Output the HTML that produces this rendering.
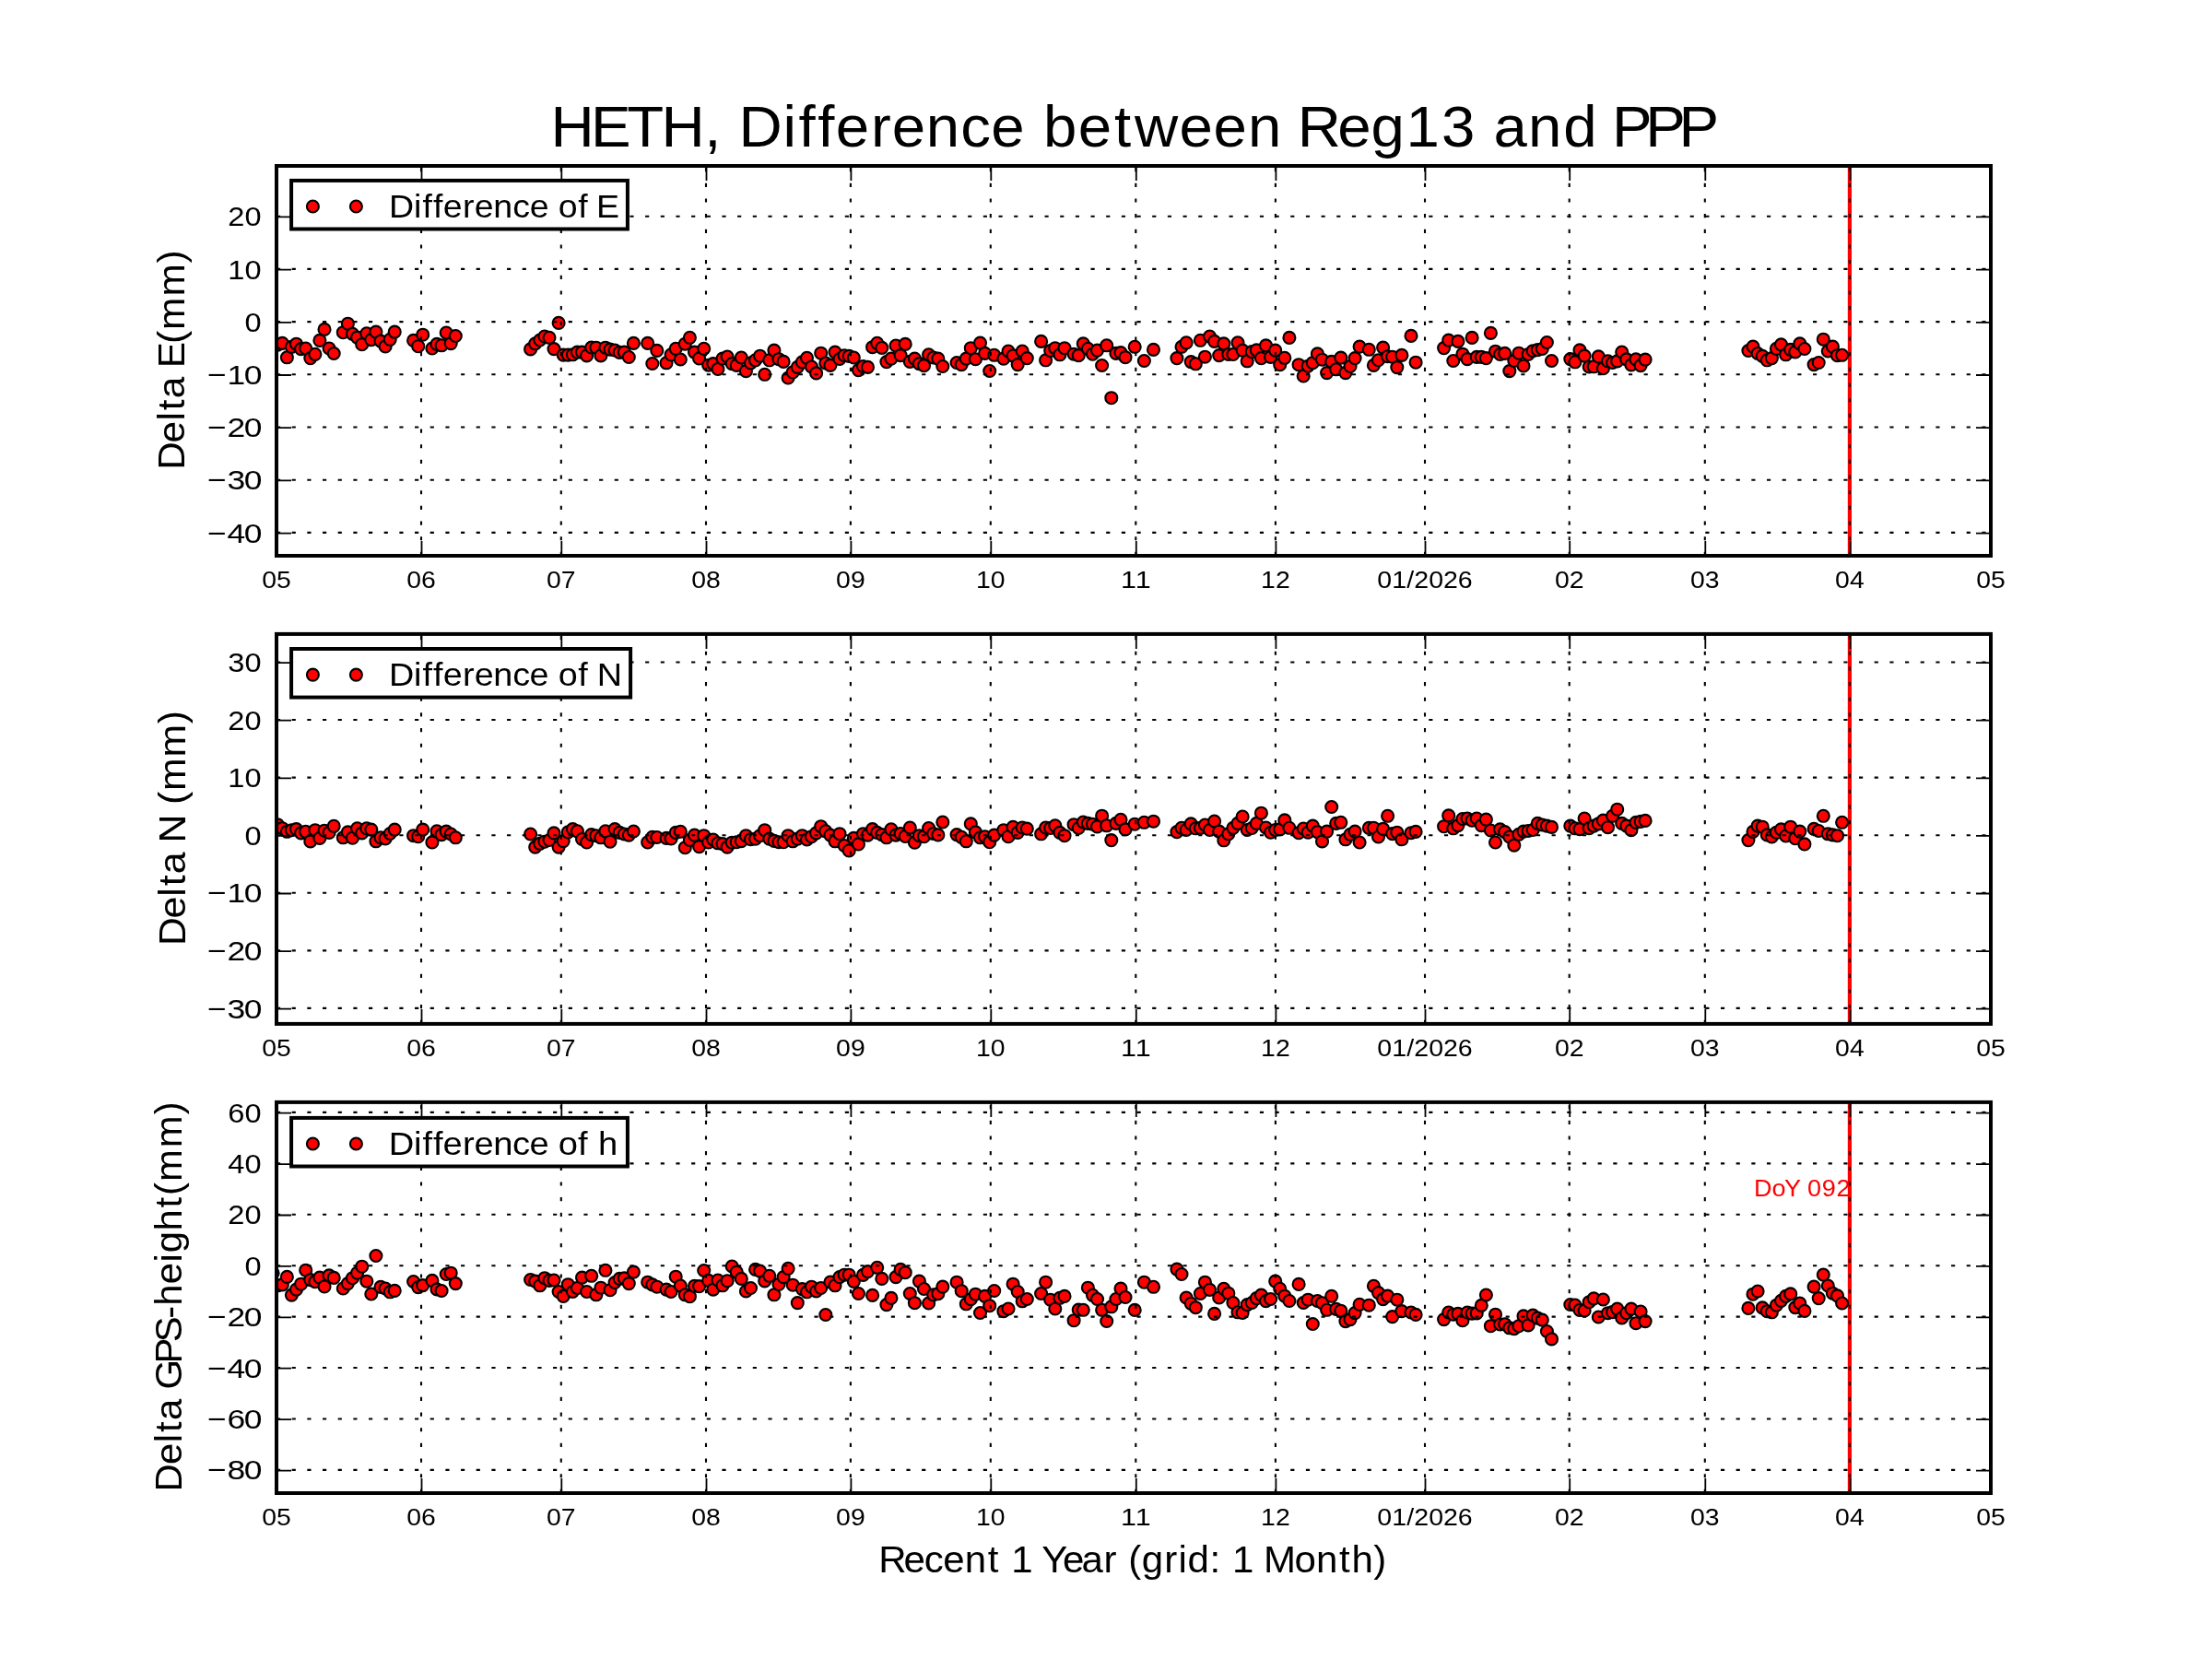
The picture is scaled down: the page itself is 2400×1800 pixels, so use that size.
<!DOCTYPE html>
<html><head><meta charset="utf-8"><title>HETH, Difference between Reg13 and PPP</title>
<style>
html,body{margin:0;padding:0;background:#fff;}
body{width:2400px;height:1800px;overflow:hidden;}
svg{display:block;font-family:"Liberation Sans",sans-serif;will-change:transform;}
</style></head><body>
<svg width="2400" height="1800" viewBox="0 0 2400 1800">
<rect width="2400" height="1800" fill="#fff"/>
<g id="panel1">
<rect x="300.0" y="180.0" width="1860.0" height="423.0" fill="#fff"/>
<line x1="2006.9" y1="180.0" x2="2006.9" y2="603.0" stroke="#f00" stroke-width="4.2"/>
<clipPath id="cp0"><rect x="300.0" y="180.0" width="1860.0" height="423.0"/></clipPath>
<g fill="#f00" stroke="#000" stroke-width="2.1" clip-path="url(#cp0)">
<circle cx="296.1" cy="374.5" r="6.5"/>
<circle cx="301.2" cy="374.2" r="6.5"/>
<circle cx="306.3" cy="372.4" r="6.5"/>
<circle cx="311.4" cy="387.8" r="6.5"/>
<circle cx="316.4" cy="376.4" r="6.5"/>
<circle cx="321.5" cy="373.2" r="6.5"/>
<circle cx="326.6" cy="378.6" r="6.5"/>
<circle cx="331.7" cy="378.0" r="6.5"/>
<circle cx="336.8" cy="388.6" r="6.5"/>
<circle cx="341.9" cy="384.3" r="6.5"/>
<circle cx="346.9" cy="369.4" r="6.5"/>
<circle cx="352.0" cy="357.4" r="6.5"/>
<circle cx="357.1" cy="378.0" r="6.5"/>
<circle cx="362.2" cy="383.5" r="6.5"/>
<circle cx="372.3" cy="360.7" r="6.5"/>
<circle cx="377.4" cy="351.2" r="6.5"/>
<circle cx="382.5" cy="362.3" r="6.5"/>
<circle cx="387.6" cy="366.1" r="6.5"/>
<circle cx="392.7" cy="373.7" r="6.5"/>
<circle cx="397.8" cy="361.8" r="6.5"/>
<circle cx="402.8" cy="368.6" r="6.5"/>
<circle cx="407.9" cy="360.1" r="6.5"/>
<circle cx="413.0" cy="370.1" r="6.5"/>
<circle cx="418.1" cy="375.9" r="6.5"/>
<circle cx="423.2" cy="368.3" r="6.5"/>
<circle cx="428.2" cy="360.1" r="6.5"/>
<circle cx="448.6" cy="369.4" r="6.5"/>
<circle cx="453.7" cy="375.7" r="6.5"/>
<circle cx="458.7" cy="363.2" r="6.5"/>
<circle cx="468.9" cy="378.0" r="6.5"/>
<circle cx="474.0" cy="373.4" r="6.5"/>
<circle cx="479.1" cy="374.8" r="6.5"/>
<circle cx="484.2" cy="361.0" r="6.5"/>
<circle cx="489.2" cy="372.6" r="6.5"/>
<circle cx="494.3" cy="364.5" r="6.5"/>
<circle cx="575.6" cy="378.9" r="6.5"/>
<circle cx="580.7" cy="372.8" r="6.5"/>
<circle cx="585.8" cy="369.0" r="6.5"/>
<circle cx="590.9" cy="365.0" r="6.5"/>
<circle cx="596.0" cy="366.3" r="6.5"/>
<circle cx="601.0" cy="378.6" r="6.5"/>
<circle cx="606.1" cy="350.4" r="6.5"/>
<circle cx="611.2" cy="385.1" r="6.5"/>
<circle cx="616.3" cy="385.1" r="6.5"/>
<circle cx="621.4" cy="384.8" r="6.5"/>
<circle cx="626.4" cy="382.1" r="6.5"/>
<circle cx="631.5" cy="382.1" r="6.5"/>
<circle cx="636.6" cy="385.9" r="6.5"/>
<circle cx="641.7" cy="377.0" r="6.5"/>
<circle cx="646.8" cy="377.2" r="6.5"/>
<circle cx="651.9" cy="385.9" r="6.5"/>
<circle cx="656.9" cy="377.2" r="6.5"/>
<circle cx="662.0" cy="379.1" r="6.5"/>
<circle cx="667.1" cy="380.0" r="6.5"/>
<circle cx="672.2" cy="382.4" r="6.5"/>
<circle cx="677.3" cy="382.1" r="6.5"/>
<circle cx="682.3" cy="387.5" r="6.5"/>
<circle cx="687.4" cy="372.4" r="6.5"/>
<circle cx="702.7" cy="372.4" r="6.5"/>
<circle cx="707.8" cy="394.5" r="6.5"/>
<circle cx="712.8" cy="380.4" r="6.5"/>
<circle cx="723.0" cy="393.8" r="6.5"/>
<circle cx="728.1" cy="384.8" r="6.5"/>
<circle cx="733.2" cy="378.3" r="6.5"/>
<circle cx="738.3" cy="390.0" r="6.5"/>
<circle cx="743.3" cy="373.2" r="6.5"/>
<circle cx="748.4" cy="366.3" r="6.5"/>
<circle cx="753.5" cy="382.1" r="6.5"/>
<circle cx="758.6" cy="388.9" r="6.5"/>
<circle cx="763.7" cy="378.3" r="6.5"/>
<circle cx="768.7" cy="396.2" r="6.5"/>
<circle cx="773.8" cy="394.6" r="6.5"/>
<circle cx="778.9" cy="400.5" r="6.5"/>
<circle cx="784.0" cy="389.1" r="6.5"/>
<circle cx="789.1" cy="387.0" r="6.5"/>
<circle cx="794.2" cy="394.6" r="6.5"/>
<circle cx="799.2" cy="396.4" r="6.5"/>
<circle cx="804.3" cy="388.0" r="6.5"/>
<circle cx="809.4" cy="402.7" r="6.5"/>
<circle cx="814.5" cy="393.8" r="6.5"/>
<circle cx="819.6" cy="390.8" r="6.5"/>
<circle cx="824.6" cy="386.2" r="6.5"/>
<circle cx="829.7" cy="406.3" r="6.5"/>
<circle cx="834.8" cy="390.8" r="6.5"/>
<circle cx="839.9" cy="380.1" r="6.5"/>
<circle cx="845.0" cy="389.7" r="6.5"/>
<circle cx="850.1" cy="392.4" r="6.5"/>
<circle cx="855.1" cy="410.0" r="6.5"/>
<circle cx="860.2" cy="403.8" r="6.5"/>
<circle cx="865.3" cy="398.4" r="6.5"/>
<circle cx="870.4" cy="392.9" r="6.5"/>
<circle cx="875.5" cy="388.3" r="6.5"/>
<circle cx="880.5" cy="398.0" r="6.5"/>
<circle cx="885.6" cy="404.9" r="6.5"/>
<circle cx="890.7" cy="383.2" r="6.5"/>
<circle cx="895.8" cy="394.0" r="6.5"/>
<circle cx="900.9" cy="396.4" r="6.5"/>
<circle cx="906.0" cy="382.1" r="6.5"/>
<circle cx="911.0" cy="389.5" r="6.5"/>
<circle cx="916.1" cy="385.7" r="6.5"/>
<circle cx="921.2" cy="386.4" r="6.5"/>
<circle cx="926.3" cy="388.0" r="6.5"/>
<circle cx="931.4" cy="401.6" r="6.5"/>
<circle cx="936.5" cy="397.5" r="6.5"/>
<circle cx="941.5" cy="398.4" r="6.5"/>
<circle cx="946.6" cy="376.7" r="6.5"/>
<circle cx="951.7" cy="372.3" r="6.5"/>
<circle cx="956.8" cy="377.4" r="6.5"/>
<circle cx="961.9" cy="392.6" r="6.5"/>
<circle cx="966.9" cy="389.1" r="6.5"/>
<circle cx="972.0" cy="375.0" r="6.5"/>
<circle cx="977.1" cy="385.6" r="6.5"/>
<circle cx="982.2" cy="373.4" r="6.5"/>
<circle cx="987.3" cy="392.4" r="6.5"/>
<circle cx="992.4" cy="389.1" r="6.5"/>
<circle cx="997.4" cy="394.6" r="6.5"/>
<circle cx="1002.5" cy="396.7" r="6.5"/>
<circle cx="1007.6" cy="384.8" r="6.5"/>
<circle cx="1012.7" cy="388.0" r="6.5"/>
<circle cx="1017.8" cy="389.1" r="6.5"/>
<circle cx="1022.8" cy="397.5" r="6.5"/>
<circle cx="1038.1" cy="393.5" r="6.5"/>
<circle cx="1043.2" cy="395.6" r="6.5"/>
<circle cx="1048.3" cy="389.1" r="6.5"/>
<circle cx="1053.3" cy="377.7" r="6.5"/>
<circle cx="1058.4" cy="389.7" r="6.5"/>
<circle cx="1063.5" cy="372.1" r="6.5"/>
<circle cx="1068.6" cy="383.4" r="6.5"/>
<circle cx="1073.7" cy="402.5" r="6.5"/>
<circle cx="1078.7" cy="385.3" r="6.5"/>
<circle cx="1088.9" cy="389.1" r="6.5"/>
<circle cx="1094.0" cy="381.0" r="6.5"/>
<circle cx="1099.1" cy="385.9" r="6.5"/>
<circle cx="1104.2" cy="395.6" r="6.5"/>
<circle cx="1109.2" cy="381.0" r="6.5"/>
<circle cx="1114.3" cy="388.6" r="6.5"/>
<circle cx="1129.6" cy="370.4" r="6.5"/>
<circle cx="1134.6" cy="390.8" r="6.5"/>
<circle cx="1139.7" cy="380.5" r="6.5"/>
<circle cx="1144.8" cy="377.7" r="6.5"/>
<circle cx="1149.9" cy="384.8" r="6.5"/>
<circle cx="1155.0" cy="377.7" r="6.5"/>
<circle cx="1165.1" cy="384.2" r="6.5"/>
<circle cx="1170.2" cy="385.7" r="6.5"/>
<circle cx="1175.3" cy="372.9" r="6.5"/>
<circle cx="1180.4" cy="378.3" r="6.5"/>
<circle cx="1185.5" cy="384.2" r="6.5"/>
<circle cx="1190.5" cy="380.1" r="6.5"/>
<circle cx="1195.6" cy="396.5" r="6.5"/>
<circle cx="1200.7" cy="374.8" r="6.5"/>
<circle cx="1205.8" cy="431.7" r="6.5"/>
<circle cx="1210.9" cy="383.4" r="6.5"/>
<circle cx="1216.0" cy="382.6" r="6.5"/>
<circle cx="1221.0" cy="387.7" r="6.5"/>
<circle cx="1231.2" cy="376.3" r="6.5"/>
<circle cx="1241.4" cy="391.5" r="6.5"/>
<circle cx="1251.5" cy="379.4" r="6.5"/>
<circle cx="1276.9" cy="388.6" r="6.5"/>
<circle cx="1282.0" cy="376.3" r="6.5"/>
<circle cx="1287.1" cy="371.8" r="6.5"/>
<circle cx="1292.2" cy="392.6" r="6.5"/>
<circle cx="1297.3" cy="394.8" r="6.5"/>
<circle cx="1302.4" cy="369.3" r="6.5"/>
<circle cx="1307.4" cy="387.2" r="6.5"/>
<circle cx="1312.5" cy="365.0" r="6.5"/>
<circle cx="1317.6" cy="370.4" r="6.5"/>
<circle cx="1322.7" cy="385.6" r="6.5"/>
<circle cx="1327.8" cy="372.9" r="6.5"/>
<circle cx="1332.8" cy="384.5" r="6.5"/>
<circle cx="1337.9" cy="384.5" r="6.5"/>
<circle cx="1343.0" cy="371.8" r="6.5"/>
<circle cx="1348.1" cy="380.1" r="6.5"/>
<circle cx="1353.2" cy="391.8" r="6.5"/>
<circle cx="1358.3" cy="381.6" r="6.5"/>
<circle cx="1363.3" cy="379.9" r="6.5"/>
<circle cx="1368.4" cy="388.6" r="6.5"/>
<circle cx="1373.5" cy="374.9" r="6.5"/>
<circle cx="1378.6" cy="387.4" r="6.5"/>
<circle cx="1383.7" cy="380.1" r="6.5"/>
<circle cx="1388.7" cy="395.7" r="6.5"/>
<circle cx="1393.8" cy="388.3" r="6.5"/>
<circle cx="1398.9" cy="366.4" r="6.5"/>
<circle cx="1409.1" cy="395.7" r="6.5"/>
<circle cx="1414.2" cy="408.0" r="6.5"/>
<circle cx="1419.2" cy="397.2" r="6.5"/>
<circle cx="1424.3" cy="393.7" r="6.5"/>
<circle cx="1429.4" cy="383.9" r="6.5"/>
<circle cx="1434.5" cy="390.2" r="6.5"/>
<circle cx="1439.6" cy="404.6" r="6.5"/>
<circle cx="1444.7" cy="392.4" r="6.5"/>
<circle cx="1449.7" cy="400.8" r="6.5"/>
<circle cx="1454.8" cy="388.1" r="6.5"/>
<circle cx="1459.9" cy="404.6" r="6.5"/>
<circle cx="1465.0" cy="397.5" r="6.5"/>
<circle cx="1470.1" cy="388.6" r="6.5"/>
<circle cx="1475.1" cy="376.1" r="6.5"/>
<circle cx="1485.3" cy="379.3" r="6.5"/>
<circle cx="1490.4" cy="396.4" r="6.5"/>
<circle cx="1495.5" cy="390.7" r="6.5"/>
<circle cx="1500.6" cy="377.1" r="6.5"/>
<circle cx="1505.6" cy="386.7" r="6.5"/>
<circle cx="1510.7" cy="387.2" r="6.5"/>
<circle cx="1515.8" cy="398.6" r="6.5"/>
<circle cx="1520.9" cy="385.4" r="6.5"/>
<circle cx="1531.0" cy="364.4" r="6.5"/>
<circle cx="1536.1" cy="393.2" r="6.5"/>
<circle cx="1566.6" cy="377.6" r="6.5"/>
<circle cx="1571.7" cy="369.1" r="6.5"/>
<circle cx="1576.8" cy="391.5" r="6.5"/>
<circle cx="1581.9" cy="370.4" r="6.5"/>
<circle cx="1586.9" cy="384.2" r="6.5"/>
<circle cx="1592.0" cy="389.6" r="6.5"/>
<circle cx="1597.1" cy="366.4" r="6.5"/>
<circle cx="1602.2" cy="387.4" r="6.5"/>
<circle cx="1607.3" cy="387.4" r="6.5"/>
<circle cx="1612.4" cy="388.6" r="6.5"/>
<circle cx="1617.4" cy="361.4" r="6.5"/>
<circle cx="1622.5" cy="381.2" r="6.5"/>
<circle cx="1627.6" cy="384.5" r="6.5"/>
<circle cx="1632.7" cy="383.4" r="6.5"/>
<circle cx="1637.8" cy="402.6" r="6.5"/>
<circle cx="1642.8" cy="391.5" r="6.5"/>
<circle cx="1647.9" cy="383.2" r="6.5"/>
<circle cx="1653.0" cy="397.0" r="6.5"/>
<circle cx="1658.1" cy="384.5" r="6.5"/>
<circle cx="1663.2" cy="380.7" r="6.5"/>
<circle cx="1668.3" cy="379.6" r="6.5"/>
<circle cx="1673.3" cy="378.5" r="6.5"/>
<circle cx="1678.4" cy="371.5" r="6.5"/>
<circle cx="1683.5" cy="391.5" r="6.5"/>
<circle cx="1703.8" cy="389.6" r="6.5"/>
<circle cx="1708.9" cy="392.8" r="6.5"/>
<circle cx="1714.0" cy="379.9" r="6.5"/>
<circle cx="1719.1" cy="386.1" r="6.5"/>
<circle cx="1724.2" cy="398.0" r="6.5"/>
<circle cx="1729.2" cy="397.8" r="6.5"/>
<circle cx="1734.3" cy="386.9" r="6.5"/>
<circle cx="1739.4" cy="399.7" r="6.5"/>
<circle cx="1744.5" cy="391.8" r="6.5"/>
<circle cx="1749.6" cy="393.5" r="6.5"/>
<circle cx="1754.7" cy="391.9" r="6.5"/>
<circle cx="1759.7" cy="382.0" r="6.5"/>
<circle cx="1764.8" cy="389.9" r="6.5"/>
<circle cx="1769.9" cy="395.9" r="6.5"/>
<circle cx="1775.0" cy="389.9" r="6.5"/>
<circle cx="1780.1" cy="396.6" r="6.5"/>
<circle cx="1785.1" cy="390.1" r="6.5"/>
<circle cx="1896.9" cy="380.5" r="6.5"/>
<circle cx="1902.0" cy="376.1" r="6.5"/>
<circle cx="1907.1" cy="383.5" r="6.5"/>
<circle cx="1912.2" cy="386.4" r="6.5"/>
<circle cx="1917.3" cy="390.8" r="6.5"/>
<circle cx="1922.4" cy="388.6" r="6.5"/>
<circle cx="1927.4" cy="378.3" r="6.5"/>
<circle cx="1932.5" cy="373.9" r="6.5"/>
<circle cx="1937.6" cy="384.8" r="6.5"/>
<circle cx="1942.7" cy="379.4" r="6.5"/>
<circle cx="1947.8" cy="381.9" r="6.5"/>
<circle cx="1952.8" cy="372.9" r="6.5"/>
<circle cx="1957.9" cy="378.5" r="6.5"/>
<circle cx="1968.1" cy="395.6" r="6.5"/>
<circle cx="1973.2" cy="393.5" r="6.5"/>
<circle cx="1978.3" cy="368.2" r="6.5"/>
<circle cx="1983.3" cy="381.0" r="6.5"/>
<circle cx="1988.4" cy="376.1" r="6.5"/>
<circle cx="1993.5" cy="385.7" r="6.5"/>
<circle cx="1998.6" cy="385.3" r="6.5"/>
</g>
<path d="M457.0 603.0V180.0M608.8 603.0V180.0M766.0 603.0V180.0M922.9 603.0V180.0M1074.8 603.0V180.0M1232.3 603.0V180.0M1383.9 603.0V180.0M1546.0 603.0V180.0M1702.7 603.0V180.0M1849.8 603.0V180.0M2006.9 603.0V180.0M300.0 234.7H2160.0M300.0 291.9H2160.0M300.0 349.1H2160.0M300.0 406.3H2160.0M300.0 463.5H2160.0M300.0 520.7H2160.0M300.0 577.9H2160.0" stroke="#000" stroke-width="2.1" stroke-dasharray="4.17 12.5" fill="none"/>
<path d="M457.5 603.0v-16M457.5 180.0v16M609.3 603.0v-16M609.3 180.0v16M766.5 603.0v-16M766.5 180.0v16M923.4 603.0v-16M923.4 180.0v16M1075.3 603.0v-16M1075.3 180.0v16M1232.8 603.0v-16M1232.8 180.0v16M1384.4 603.0v-16M1384.4 180.0v16M1546.5 603.0v-16M1546.5 180.0v16M1703.2 603.0v-16M1703.2 180.0v16M1850.3 603.0v-16M1850.3 180.0v16M2007.4 603.0v-16M2007.4 180.0v16M300.0 235.4h16M2160.0 235.4h-16M300.0 292.6h16M2160.0 292.6h-16M300.0 349.8h16M2160.0 349.8h-16M300.0 407.0h16M2160.0 407.0h-16M300.0 464.2h16M2160.0 464.2h-16M300.0 521.4h16M2160.0 521.4h-16M300.0 578.6h16M2160.0 578.6h-16" stroke="#000" stroke-width="1.8" fill="none"/>
<rect x="300.0" y="180.0" width="1860.0" height="423.0" fill="none" stroke="#000" stroke-width="4"/>
<rect x="316.1" y="195.9" width="364.8" height="52.6" fill="#fff" stroke="#000" stroke-width="4"/>
<g fill="#f00" stroke="#000" stroke-width="2.1"><circle cx="339.4" cy="224.0" r="6.5"/><circle cx="386.4" cy="224.0" r="6.5"/></g>
<text transform="translate(422.70 235.80) scale(1.0565 1)" x="-0.61 24.88 33.88 44.80 54.95 75.19 87.15 106.61 126.37 143.84 163.58 173.38 193.60 204.22 212.37" y="0" font-size="35.51">Difference of E</text>
<text transform="translate(247.33 245.30) scale(1.0792 1)" x="0.00 16.80" y="0" font-size="30.21">20</text>
<text transform="translate(247.33 302.50) scale(1.0792 1)" x="0.00 16.80" y="0" font-size="30.21">10</text>
<text transform="translate(265.47 359.70) scale(1.0792 1)" x="0.00" y="0" font-size="30.21">0</text>
<text transform="translate(223.45 416.90) scale(1.1737 1)" x="1.35 19.67 35.12" y="0" font-size="30.21">−10</text>
<text transform="translate(223.45 474.10) scale(1.1737 1)" x="1.35 19.67 35.12" y="0" font-size="30.21">−20</text>
<text transform="translate(223.45 531.30) scale(1.1737 1)" x="1.35 19.67 35.12" y="0" font-size="30.21">−30</text>
<text transform="translate(223.45 588.50) scale(1.1737 1)" x="1.35 19.67 35.12" y="0" font-size="30.21">−40</text>
<text transform="translate(284.20 637.60) scale(1.1170 1)" x="-0.00 14.15" y="0" font-size="25.44">05</text>
<text transform="translate(441.20 637.60) scale(1.1170 1)" x="-0.00 14.15" y="0" font-size="25.44">06</text>
<text transform="translate(593.00 637.60) scale(1.1170 1)" x="-0.00 14.15" y="0" font-size="25.44">07</text>
<text transform="translate(750.20 637.60) scale(1.1170 1)" x="-0.00 14.15" y="0" font-size="25.44">08</text>
<text transform="translate(907.10 637.60) scale(1.1170 1)" x="-0.00 14.15" y="0" font-size="25.44">09</text>
<text transform="translate(1059.00 637.60) scale(1.1170 1)" x="-0.00 14.15" y="0" font-size="25.44">10</text>
<text transform="translate(1216.50 637.60) scale(1.1969 1)" x="-0.47 12.73" y="0" font-size="25.44">11</text>
<text transform="translate(1368.10 637.60) scale(1.1170 1)" x="-0.00 14.15" y="0" font-size="25.44">12</text>
<text transform="translate(1494.40 637.60) scale(1.1222 1)" x="-0.03 14.05 28.36 35.59 49.68 63.76 77.84" y="0" font-size="25.44">01/2026</text>
<text transform="translate(1686.90 637.60) scale(1.1170 1)" x="-0.00 14.15" y="0" font-size="25.44">02</text>
<text transform="translate(1834.00 637.60) scale(1.1170 1)" x="-0.00 14.15" y="0" font-size="25.44">03</text>
<text transform="translate(1991.10 637.60) scale(1.1170 1)" x="-0.00 14.15" y="0" font-size="25.44">04</text>
<text transform="translate(2144.20 637.60) scale(1.1170 1)" x="-0.00 14.15" y="0" font-size="25.44">05</text>
<text transform="translate(200.20 390.00) rotate(-90) translate(-118.99 0) scale(1.0669 1)" x="-0.82 26.82 49.15 59.82 71.95 93.84 102.79 127.39 141.43 175.66 209.58" y="0" font-size="39.75">Delta E(mm)</text>
</g>
<g id="panel2">
<rect x="300.0" y="687.9" width="1860.0" height="423.0000000000001" fill="#fff"/>
<line x1="2006.9" y1="687.9" x2="2006.9" y2="1110.9" stroke="#f00" stroke-width="4.2"/>
<clipPath id="cp1"><rect x="300.0" y="687.9" width="1860.0" height="423.0000000000001"/></clipPath>
<g fill="#f00" stroke="#000" stroke-width="2.1" clip-path="url(#cp1)">
<circle cx="296.1" cy="894.5" r="6.5"/>
<circle cx="301.2" cy="894.7" r="6.5"/>
<circle cx="306.3" cy="898.7" r="6.5"/>
<circle cx="311.4" cy="902.3" r="6.5"/>
<circle cx="316.4" cy="900.7" r="6.5"/>
<circle cx="321.5" cy="899.6" r="6.5"/>
<circle cx="326.6" cy="903.9" r="6.5"/>
<circle cx="331.7" cy="902.3" r="6.5"/>
<circle cx="336.8" cy="912.9" r="6.5"/>
<circle cx="341.9" cy="900.7" r="6.5"/>
<circle cx="346.9" cy="909.4" r="6.5"/>
<circle cx="352.0" cy="901.2" r="6.5"/>
<circle cx="357.1" cy="903.4" r="6.5"/>
<circle cx="362.2" cy="896.3" r="6.5"/>
<circle cx="372.3" cy="908.8" r="6.5"/>
<circle cx="377.4" cy="902.9" r="6.5"/>
<circle cx="382.5" cy="909.2" r="6.5"/>
<circle cx="387.6" cy="898.8" r="6.5"/>
<circle cx="392.7" cy="903.9" r="6.5"/>
<circle cx="397.8" cy="898.8" r="6.5"/>
<circle cx="402.8" cy="900.1" r="6.5"/>
<circle cx="407.9" cy="912.8" r="6.5"/>
<circle cx="413.0" cy="908.8" r="6.5"/>
<circle cx="418.1" cy="909.9" r="6.5"/>
<circle cx="423.2" cy="904.5" r="6.5"/>
<circle cx="428.2" cy="900.1" r="6.5"/>
<circle cx="448.6" cy="906.7" r="6.5"/>
<circle cx="453.7" cy="907.7" r="6.5"/>
<circle cx="458.7" cy="900.1" r="6.5"/>
<circle cx="468.9" cy="913.9" r="6.5"/>
<circle cx="474.0" cy="901.8" r="6.5"/>
<circle cx="479.1" cy="905.6" r="6.5"/>
<circle cx="484.2" cy="902.1" r="6.5"/>
<circle cx="489.2" cy="905.0" r="6.5"/>
<circle cx="494.3" cy="908.8" r="6.5"/>
<circle cx="575.6" cy="905.0" r="6.5"/>
<circle cx="580.7" cy="919.1" r="6.5"/>
<circle cx="585.8" cy="915.3" r="6.5"/>
<circle cx="590.9" cy="913.2" r="6.5"/>
<circle cx="596.0" cy="911.5" r="6.5"/>
<circle cx="601.0" cy="903.9" r="6.5"/>
<circle cx="606.1" cy="919.1" r="6.5"/>
<circle cx="611.2" cy="912.6" r="6.5"/>
<circle cx="616.3" cy="902.9" r="6.5"/>
<circle cx="621.4" cy="899.6" r="6.5"/>
<circle cx="626.4" cy="901.8" r="6.5"/>
<circle cx="631.5" cy="910.5" r="6.5"/>
<circle cx="636.6" cy="913.9" r="6.5"/>
<circle cx="641.7" cy="905.6" r="6.5"/>
<circle cx="646.8" cy="906.7" r="6.5"/>
<circle cx="651.9" cy="908.8" r="6.5"/>
<circle cx="656.9" cy="901.8" r="6.5"/>
<circle cx="662.0" cy="913.2" r="6.5"/>
<circle cx="667.1" cy="899.6" r="6.5"/>
<circle cx="672.2" cy="903.4" r="6.5"/>
<circle cx="677.3" cy="905.0" r="6.5"/>
<circle cx="682.3" cy="906.1" r="6.5"/>
<circle cx="687.4" cy="902.0" r="6.5"/>
<circle cx="702.7" cy="913.9" r="6.5"/>
<circle cx="707.8" cy="908.3" r="6.5"/>
<circle cx="712.8" cy="908.5" r="6.5"/>
<circle cx="723.0" cy="909.4" r="6.5"/>
<circle cx="728.1" cy="909.9" r="6.5"/>
<circle cx="733.2" cy="903.4" r="6.5"/>
<circle cx="738.3" cy="902.3" r="6.5"/>
<circle cx="743.3" cy="919.7" r="6.5"/>
<circle cx="748.4" cy="911.5" r="6.5"/>
<circle cx="753.5" cy="906.1" r="6.5"/>
<circle cx="758.6" cy="918.6" r="6.5"/>
<circle cx="763.7" cy="906.7" r="6.5"/>
<circle cx="768.7" cy="913.9" r="6.5"/>
<circle cx="773.8" cy="911.0" r="6.5"/>
<circle cx="778.9" cy="914.8" r="6.5"/>
<circle cx="784.0" cy="915.6" r="6.5"/>
<circle cx="789.1" cy="919.1" r="6.5"/>
<circle cx="794.2" cy="914.2" r="6.5"/>
<circle cx="799.2" cy="913.7" r="6.5"/>
<circle cx="804.3" cy="912.6" r="6.5"/>
<circle cx="809.4" cy="906.7" r="6.5"/>
<circle cx="814.5" cy="910.7" r="6.5"/>
<circle cx="819.6" cy="910.1" r="6.5"/>
<circle cx="824.6" cy="906.7" r="6.5"/>
<circle cx="829.7" cy="900.7" r="6.5"/>
<circle cx="834.8" cy="910.1" r="6.5"/>
<circle cx="839.9" cy="912.4" r="6.5"/>
<circle cx="845.0" cy="913.7" r="6.5"/>
<circle cx="850.1" cy="913.7" r="6.5"/>
<circle cx="855.1" cy="906.7" r="6.5"/>
<circle cx="860.2" cy="912.8" r="6.5"/>
<circle cx="865.3" cy="910.1" r="6.5"/>
<circle cx="870.4" cy="906.7" r="6.5"/>
<circle cx="875.5" cy="911.0" r="6.5"/>
<circle cx="880.5" cy="907.7" r="6.5"/>
<circle cx="885.6" cy="903.9" r="6.5"/>
<circle cx="890.7" cy="896.7" r="6.5"/>
<circle cx="895.8" cy="901.8" r="6.5"/>
<circle cx="900.9" cy="906.1" r="6.5"/>
<circle cx="906.0" cy="912.8" r="6.5"/>
<circle cx="911.0" cy="904.7" r="6.5"/>
<circle cx="916.1" cy="917.5" r="6.5"/>
<circle cx="921.2" cy="922.9" r="6.5"/>
<circle cx="926.3" cy="909.4" r="6.5"/>
<circle cx="931.4" cy="915.9" r="6.5"/>
<circle cx="936.5" cy="904.7" r="6.5"/>
<circle cx="941.5" cy="906.1" r="6.5"/>
<circle cx="946.6" cy="899.6" r="6.5"/>
<circle cx="951.7" cy="903.4" r="6.5"/>
<circle cx="956.8" cy="905.6" r="6.5"/>
<circle cx="961.9" cy="908.8" r="6.5"/>
<circle cx="966.9" cy="899.8" r="6.5"/>
<circle cx="972.0" cy="906.1" r="6.5"/>
<circle cx="977.1" cy="904.5" r="6.5"/>
<circle cx="982.2" cy="907.4" r="6.5"/>
<circle cx="987.3" cy="898.0" r="6.5"/>
<circle cx="992.4" cy="914.2" r="6.5"/>
<circle cx="997.4" cy="906.7" r="6.5"/>
<circle cx="1002.5" cy="907.7" r="6.5"/>
<circle cx="1007.6" cy="898.5" r="6.5"/>
<circle cx="1012.7" cy="904.5" r="6.5"/>
<circle cx="1017.8" cy="905.9" r="6.5"/>
<circle cx="1022.8" cy="892.0" r="6.5"/>
<circle cx="1038.1" cy="905.6" r="6.5"/>
<circle cx="1043.2" cy="908.3" r="6.5"/>
<circle cx="1048.3" cy="912.8" r="6.5"/>
<circle cx="1053.3" cy="893.9" r="6.5"/>
<circle cx="1058.4" cy="902.9" r="6.5"/>
<circle cx="1063.5" cy="908.8" r="6.5"/>
<circle cx="1068.6" cy="907.7" r="6.5"/>
<circle cx="1073.7" cy="913.7" r="6.5"/>
<circle cx="1078.7" cy="906.1" r="6.5"/>
<circle cx="1088.9" cy="900.7" r="6.5"/>
<circle cx="1094.0" cy="907.7" r="6.5"/>
<circle cx="1099.1" cy="897.4" r="6.5"/>
<circle cx="1104.2" cy="903.4" r="6.5"/>
<circle cx="1109.2" cy="898.0" r="6.5"/>
<circle cx="1114.3" cy="899.1" r="6.5"/>
<circle cx="1129.6" cy="904.8" r="6.5"/>
<circle cx="1134.6" cy="898.0" r="6.5"/>
<circle cx="1139.7" cy="898.5" r="6.5"/>
<circle cx="1144.8" cy="895.8" r="6.5"/>
<circle cx="1149.9" cy="903.4" r="6.5"/>
<circle cx="1155.0" cy="906.7" r="6.5"/>
<circle cx="1165.1" cy="894.7" r="6.5"/>
<circle cx="1170.2" cy="898.5" r="6.5"/>
<circle cx="1175.3" cy="892.0" r="6.5"/>
<circle cx="1180.4" cy="893.4" r="6.5"/>
<circle cx="1185.5" cy="894.2" r="6.5"/>
<circle cx="1190.5" cy="896.9" r="6.5"/>
<circle cx="1195.6" cy="885.2" r="6.5"/>
<circle cx="1200.7" cy="895.8" r="6.5"/>
<circle cx="1205.8" cy="911.6" r="6.5"/>
<circle cx="1210.9" cy="893.4" r="6.5"/>
<circle cx="1216.0" cy="889.3" r="6.5"/>
<circle cx="1221.0" cy="899.9" r="6.5"/>
<circle cx="1231.2" cy="894.2" r="6.5"/>
<circle cx="1241.4" cy="892.3" r="6.5"/>
<circle cx="1251.5" cy="891.2" r="6.5"/>
<circle cx="1276.9" cy="902.6" r="6.5"/>
<circle cx="1282.0" cy="898.3" r="6.5"/>
<circle cx="1287.1" cy="900.5" r="6.5"/>
<circle cx="1292.2" cy="893.9" r="6.5"/>
<circle cx="1297.3" cy="898.8" r="6.5"/>
<circle cx="1302.4" cy="898.3" r="6.5"/>
<circle cx="1307.4" cy="895.0" r="6.5"/>
<circle cx="1312.5" cy="900.5" r="6.5"/>
<circle cx="1317.6" cy="891.0" r="6.5"/>
<circle cx="1322.7" cy="902.1" r="6.5"/>
<circle cx="1327.8" cy="911.8" r="6.5"/>
<circle cx="1332.8" cy="904.8" r="6.5"/>
<circle cx="1337.9" cy="898.3" r="6.5"/>
<circle cx="1343.0" cy="893.4" r="6.5"/>
<circle cx="1348.1" cy="886.0" r="6.5"/>
<circle cx="1353.2" cy="900.5" r="6.5"/>
<circle cx="1358.3" cy="898.5" r="6.5"/>
<circle cx="1363.3" cy="893.4" r="6.5"/>
<circle cx="1368.4" cy="882.2" r="6.5"/>
<circle cx="1373.5" cy="898.0" r="6.5"/>
<circle cx="1378.6" cy="903.2" r="6.5"/>
<circle cx="1383.7" cy="900.5" r="6.5"/>
<circle cx="1388.7" cy="899.9" r="6.5"/>
<circle cx="1393.8" cy="889.9" r="6.5"/>
<circle cx="1398.9" cy="898.3" r="6.5"/>
<circle cx="1409.1" cy="903.7" r="6.5"/>
<circle cx="1414.2" cy="899.0" r="6.5"/>
<circle cx="1419.2" cy="903.2" r="6.5"/>
<circle cx="1424.3" cy="896.1" r="6.5"/>
<circle cx="1429.4" cy="902.6" r="6.5"/>
<circle cx="1434.5" cy="912.9" r="6.5"/>
<circle cx="1439.6" cy="902.1" r="6.5"/>
<circle cx="1444.7" cy="875.5" r="6.5"/>
<circle cx="1449.7" cy="893.4" r="6.5"/>
<circle cx="1454.8" cy="892.3" r="6.5"/>
<circle cx="1459.9" cy="910.8" r="6.5"/>
<circle cx="1465.0" cy="905.3" r="6.5"/>
<circle cx="1470.1" cy="902.1" r="6.5"/>
<circle cx="1475.1" cy="914.0" r="6.5"/>
<circle cx="1485.3" cy="898.3" r="6.5"/>
<circle cx="1490.4" cy="898.3" r="6.5"/>
<circle cx="1495.5" cy="908.0" r="6.5"/>
<circle cx="1500.6" cy="899.4" r="6.5"/>
<circle cx="1505.6" cy="885.3" r="6.5"/>
<circle cx="1510.7" cy="904.6" r="6.5"/>
<circle cx="1515.8" cy="903.2" r="6.5"/>
<circle cx="1520.9" cy="910.8" r="6.5"/>
<circle cx="1531.0" cy="903.7" r="6.5"/>
<circle cx="1536.1" cy="902.4" r="6.5"/>
<circle cx="1566.6" cy="896.7" r="6.5"/>
<circle cx="1571.7" cy="884.9" r="6.5"/>
<circle cx="1576.8" cy="898.8" r="6.5"/>
<circle cx="1581.9" cy="895.6" r="6.5"/>
<circle cx="1586.9" cy="888.5" r="6.5"/>
<circle cx="1592.0" cy="888.0" r="6.5"/>
<circle cx="1597.1" cy="890.1" r="6.5"/>
<circle cx="1602.2" cy="888.0" r="6.5"/>
<circle cx="1607.3" cy="895.6" r="6.5"/>
<circle cx="1612.4" cy="889.1" r="6.5"/>
<circle cx="1617.4" cy="901.0" r="6.5"/>
<circle cx="1622.5" cy="914.0" r="6.5"/>
<circle cx="1627.6" cy="899.9" r="6.5"/>
<circle cx="1632.7" cy="902.6" r="6.5"/>
<circle cx="1637.8" cy="908.0" r="6.5"/>
<circle cx="1642.8" cy="917.1" r="6.5"/>
<circle cx="1647.9" cy="905.3" r="6.5"/>
<circle cx="1653.0" cy="902.1" r="6.5"/>
<circle cx="1658.1" cy="901.5" r="6.5"/>
<circle cx="1663.2" cy="900.5" r="6.5"/>
<circle cx="1668.3" cy="893.4" r="6.5"/>
<circle cx="1673.3" cy="895.0" r="6.5"/>
<circle cx="1678.4" cy="896.1" r="6.5"/>
<circle cx="1683.5" cy="897.4" r="6.5"/>
<circle cx="1703.8" cy="896.1" r="6.5"/>
<circle cx="1708.9" cy="898.8" r="6.5"/>
<circle cx="1714.0" cy="899.7" r="6.5"/>
<circle cx="1719.1" cy="888.0" r="6.5"/>
<circle cx="1724.2" cy="898.6" r="6.5"/>
<circle cx="1729.2" cy="896.1" r="6.5"/>
<circle cx="1734.3" cy="893.9" r="6.5"/>
<circle cx="1739.4" cy="890.1" r="6.5"/>
<circle cx="1744.5" cy="897.7" r="6.5"/>
<circle cx="1749.6" cy="885.3" r="6.5"/>
<circle cx="1754.7" cy="878.2" r="6.5"/>
<circle cx="1759.7" cy="893.4" r="6.5"/>
<circle cx="1764.8" cy="896.1" r="6.5"/>
<circle cx="1769.9" cy="900.7" r="6.5"/>
<circle cx="1775.0" cy="892.3" r="6.5"/>
<circle cx="1780.1" cy="891.4" r="6.5"/>
<circle cx="1785.1" cy="890.4" r="6.5"/>
<circle cx="1896.9" cy="911.6" r="6.5"/>
<circle cx="1902.0" cy="902.4" r="6.5"/>
<circle cx="1907.1" cy="896.1" r="6.5"/>
<circle cx="1912.2" cy="897.2" r="6.5"/>
<circle cx="1917.3" cy="905.9" r="6.5"/>
<circle cx="1922.4" cy="908.0" r="6.5"/>
<circle cx="1927.4" cy="903.2" r="6.5"/>
<circle cx="1932.5" cy="899.9" r="6.5"/>
<circle cx="1937.6" cy="907.0" r="6.5"/>
<circle cx="1942.7" cy="897.2" r="6.5"/>
<circle cx="1947.8" cy="909.7" r="6.5"/>
<circle cx="1952.8" cy="902.1" r="6.5"/>
<circle cx="1957.9" cy="915.9" r="6.5"/>
<circle cx="1968.1" cy="899.4" r="6.5"/>
<circle cx="1973.2" cy="901.5" r="6.5"/>
<circle cx="1978.3" cy="885.3" r="6.5"/>
<circle cx="1983.3" cy="904.8" r="6.5"/>
<circle cx="1988.4" cy="905.9" r="6.5"/>
<circle cx="1993.5" cy="906.7" r="6.5"/>
<circle cx="1998.6" cy="892.3" r="6.5"/>
</g>
<path d="M457.0 1110.9V687.9M608.8 1110.9V687.9M766.0 1110.9V687.9M922.9 1110.9V687.9M1074.8 1110.9V687.9M1232.3 1110.9V687.9M1383.9 1110.9V687.9M1546.0 1110.9V687.9M1702.7 1110.9V687.9M1849.8 1110.9V687.9M2006.9 1110.9V687.9M300.0 718.5H2160.0M300.0 781.0H2160.0M300.0 843.6H2160.0M300.0 906.2H2160.0M300.0 968.8H2160.0M300.0 1031.4H2160.0M300.0 1093.9H2160.0" stroke="#000" stroke-width="2.1" stroke-dasharray="4.17 12.5" fill="none"/>
<path d="M457.5 1110.9v-16M457.5 687.9v16M609.3 1110.9v-16M609.3 687.9v16M766.5 1110.9v-16M766.5 687.9v16M923.4 1110.9v-16M923.4 687.9v16M1075.3 1110.9v-16M1075.3 687.9v16M1232.8 1110.9v-16M1232.8 687.9v16M1384.4 1110.9v-16M1384.4 687.9v16M1546.5 1110.9v-16M1546.5 687.9v16M1703.2 1110.9v-16M1703.2 687.9v16M1850.3 1110.9v-16M1850.3 687.9v16M2007.4 1110.9v-16M2007.4 687.9v16M300.0 719.2h16M2160.0 719.2h-16M300.0 781.7h16M2160.0 781.7h-16M300.0 844.3h16M2160.0 844.3h-16M300.0 906.9h16M2160.0 906.9h-16M300.0 969.5h16M2160.0 969.5h-16M300.0 1032.1h16M2160.0 1032.1h-16M300.0 1094.6h16M2160.0 1094.6h-16" stroke="#000" stroke-width="1.8" fill="none"/>
<rect x="300.0" y="687.9" width="1860.0" height="423.0000000000001" fill="none" stroke="#000" stroke-width="4"/>
<rect x="316.1" y="704.0" width="368.0" height="52.6" fill="#fff" stroke="#000" stroke-width="4"/>
<g fill="#f00" stroke="#000" stroke-width="2.1"><circle cx="339.4" cy="732.1" r="6.5"/><circle cx="386.4" cy="732.1" r="6.5"/></g>
<text transform="translate(422.70 743.90) scale(1.0642 1)" x="-0.70 24.67 33.59 44.44 54.48 74.60 86.45 105.76 125.39 142.73 162.36 172.05 192.16 202.71 211.59" y="0" font-size="35.51">Difference of N</text>
<text transform="translate(247.33 729.06) scale(1.0792 1)" x="0.00 16.80" y="0" font-size="30.21">30</text>
<text transform="translate(247.33 791.64) scale(1.0792 1)" x="0.00 16.80" y="0" font-size="30.21">20</text>
<text transform="translate(247.33 854.22) scale(1.0792 1)" x="0.00 16.80" y="0" font-size="30.21">10</text>
<text transform="translate(265.47 916.80) scale(1.0792 1)" x="0.00" y="0" font-size="30.21">0</text>
<text transform="translate(223.45 979.38) scale(1.1737 1)" x="1.35 19.67 35.12" y="0" font-size="30.21">−10</text>
<text transform="translate(223.45 1041.96) scale(1.1737 1)" x="1.35 19.67 35.12" y="0" font-size="30.21">−20</text>
<text transform="translate(223.45 1104.54) scale(1.1737 1)" x="1.35 19.67 35.12" y="0" font-size="30.21">−30</text>
<text transform="translate(284.20 1145.50) scale(1.1170 1)" x="-0.00 14.15" y="0" font-size="25.44">05</text>
<text transform="translate(441.20 1145.50) scale(1.1170 1)" x="-0.00 14.15" y="0" font-size="25.44">06</text>
<text transform="translate(593.00 1145.50) scale(1.1170 1)" x="-0.00 14.15" y="0" font-size="25.44">07</text>
<text transform="translate(750.20 1145.50) scale(1.1170 1)" x="-0.00 14.15" y="0" font-size="25.44">08</text>
<text transform="translate(907.10 1145.50) scale(1.1170 1)" x="-0.00 14.15" y="0" font-size="25.44">09</text>
<text transform="translate(1059.00 1145.50) scale(1.1170 1)" x="-0.00 14.15" y="0" font-size="25.44">10</text>
<text transform="translate(1216.50 1145.50) scale(1.1969 1)" x="-0.47 12.73" y="0" font-size="25.44">11</text>
<text transform="translate(1368.10 1145.50) scale(1.1170 1)" x="-0.00 14.15" y="0" font-size="25.44">12</text>
<text transform="translate(1494.40 1145.50) scale(1.1222 1)" x="-0.03 14.05 28.36 35.59 49.68 63.76 77.84" y="0" font-size="25.44">01/2026</text>
<text transform="translate(1686.90 1145.50) scale(1.1170 1)" x="-0.00 14.15" y="0" font-size="25.44">02</text>
<text transform="translate(1834.00 1145.50) scale(1.1170 1)" x="-0.00 14.15" y="0" font-size="25.44">03</text>
<text transform="translate(1991.10 1145.50) scale(1.1170 1)" x="-0.00 14.15" y="0" font-size="25.44">04</text>
<text transform="translate(2144.20 1145.50) scale(1.1170 1)" x="-0.00 14.15" y="0" font-size="25.44">05</text>
<text transform="translate(200.70 897.90) rotate(-90) translate(-127.13 0) scale(1.0761 1)" x="-0.94 26.50 48.70 59.27 71.25 92.99 102.74 130.14 141.38 155.22 189.16 222.87" y="0" font-size="39.75">Delta N (mm)</text>
</g>
<g id="panel3">
<rect x="300.0" y="1195.9" width="1860.0" height="424.0999999999999" fill="#fff"/>
<line x1="2006.9" y1="1195.9" x2="2006.9" y2="1620.0" stroke="#f00" stroke-width="4.2"/>
<clipPath id="cp2"><rect x="300.0" y="1195.9" width="1860.0" height="424.0999999999999"/></clipPath>
<g fill="#f00" stroke="#000" stroke-width="2.1" clip-path="url(#cp2)">
<circle cx="296.1" cy="1381.3" r="6.5"/>
<circle cx="301.2" cy="1394.8" r="6.5"/>
<circle cx="306.3" cy="1393.9" r="6.5"/>
<circle cx="311.4" cy="1385.4" r="6.5"/>
<circle cx="316.4" cy="1405.1" r="6.5"/>
<circle cx="321.5" cy="1399.1" r="6.5"/>
<circle cx="326.6" cy="1393.2" r="6.5"/>
<circle cx="331.7" cy="1378.2" r="6.5"/>
<circle cx="336.8" cy="1388.6" r="6.5"/>
<circle cx="341.9" cy="1390.7" r="6.5"/>
<circle cx="346.9" cy="1386.1" r="6.5"/>
<circle cx="352.0" cy="1395.9" r="6.5"/>
<circle cx="357.1" cy="1383.9" r="6.5"/>
<circle cx="362.2" cy="1386.4" r="6.5"/>
<circle cx="372.3" cy="1398.0" r="6.5"/>
<circle cx="377.4" cy="1392.6" r="6.5"/>
<circle cx="382.5" cy="1386.7" r="6.5"/>
<circle cx="387.6" cy="1381.2" r="6.5"/>
<circle cx="392.7" cy="1374.2" r="6.5"/>
<circle cx="397.8" cy="1390.2" r="6.5"/>
<circle cx="402.8" cy="1404.0" r="6.5"/>
<circle cx="407.9" cy="1362.5" r="6.5"/>
<circle cx="413.0" cy="1396.4" r="6.5"/>
<circle cx="418.1" cy="1398.0" r="6.5"/>
<circle cx="423.2" cy="1401.8" r="6.5"/>
<circle cx="428.2" cy="1400.4" r="6.5"/>
<circle cx="448.6" cy="1390.5" r="6.5"/>
<circle cx="453.7" cy="1396.6" r="6.5"/>
<circle cx="458.7" cy="1394.6" r="6.5"/>
<circle cx="468.9" cy="1389.4" r="6.5"/>
<circle cx="474.0" cy="1398.9" r="6.5"/>
<circle cx="479.1" cy="1400.5" r="6.5"/>
<circle cx="484.2" cy="1382.5" r="6.5"/>
<circle cx="489.2" cy="1381.2" r="6.5"/>
<circle cx="494.3" cy="1392.6" r="6.5"/>
<circle cx="575.6" cy="1388.5" r="6.5"/>
<circle cx="580.7" cy="1390.1" r="6.5"/>
<circle cx="585.8" cy="1394.8" r="6.5"/>
<circle cx="590.9" cy="1386.7" r="6.5"/>
<circle cx="596.0" cy="1389.4" r="6.5"/>
<circle cx="601.0" cy="1389.0" r="6.5"/>
<circle cx="606.1" cy="1401.5" r="6.5"/>
<circle cx="611.2" cy="1406.4" r="6.5"/>
<circle cx="616.3" cy="1393.7" r="6.5"/>
<circle cx="621.4" cy="1401.5" r="6.5"/>
<circle cx="626.4" cy="1397.5" r="6.5"/>
<circle cx="631.5" cy="1386.1" r="6.5"/>
<circle cx="636.6" cy="1401.5" r="6.5"/>
<circle cx="641.7" cy="1384.3" r="6.5"/>
<circle cx="646.8" cy="1404.8" r="6.5"/>
<circle cx="651.9" cy="1397.2" r="6.5"/>
<circle cx="656.9" cy="1378.3" r="6.5"/>
<circle cx="662.0" cy="1399.7" r="6.5"/>
<circle cx="667.1" cy="1391.5" r="6.5"/>
<circle cx="672.2" cy="1387.4" r="6.5"/>
<circle cx="677.3" cy="1386.9" r="6.5"/>
<circle cx="682.3" cy="1392.6" r="6.5"/>
<circle cx="687.4" cy="1380.1" r="6.5"/>
<circle cx="702.7" cy="1391.2" r="6.5"/>
<circle cx="707.8" cy="1393.9" r="6.5"/>
<circle cx="712.8" cy="1396.2" r="6.5"/>
<circle cx="723.0" cy="1399.1" r="6.5"/>
<circle cx="728.1" cy="1401.5" r="6.5"/>
<circle cx="733.2" cy="1385.2" r="6.5"/>
<circle cx="738.3" cy="1395.0" r="6.5"/>
<circle cx="743.3" cy="1404.8" r="6.5"/>
<circle cx="748.4" cy="1406.7" r="6.5"/>
<circle cx="753.5" cy="1395.3" r="6.5"/>
<circle cx="758.6" cy="1395.6" r="6.5"/>
<circle cx="763.7" cy="1378.5" r="6.5"/>
<circle cx="768.7" cy="1389.4" r="6.5"/>
<circle cx="773.8" cy="1399.1" r="6.5"/>
<circle cx="778.9" cy="1389.0" r="6.5"/>
<circle cx="784.0" cy="1394.8" r="6.5"/>
<circle cx="789.1" cy="1389.7" r="6.5"/>
<circle cx="794.2" cy="1374.0" r="6.5"/>
<circle cx="799.2" cy="1380.1" r="6.5"/>
<circle cx="804.3" cy="1387.4" r="6.5"/>
<circle cx="809.4" cy="1401.0" r="6.5"/>
<circle cx="814.5" cy="1397.5" r="6.5"/>
<circle cx="819.6" cy="1377.4" r="6.5"/>
<circle cx="824.6" cy="1379.1" r="6.5"/>
<circle cx="829.7" cy="1389.9" r="6.5"/>
<circle cx="834.8" cy="1384.3" r="6.5"/>
<circle cx="839.9" cy="1404.8" r="6.5"/>
<circle cx="845.0" cy="1393.5" r="6.5"/>
<circle cx="850.1" cy="1385.6" r="6.5"/>
<circle cx="855.1" cy="1376.3" r="6.5"/>
<circle cx="860.2" cy="1394.2" r="6.5"/>
<circle cx="865.3" cy="1413.6" r="6.5"/>
<circle cx="870.4" cy="1398.6" r="6.5"/>
<circle cx="875.5" cy="1401.8" r="6.5"/>
<circle cx="880.5" cy="1396.2" r="6.5"/>
<circle cx="885.6" cy="1401.0" r="6.5"/>
<circle cx="890.7" cy="1397.5" r="6.5"/>
<circle cx="895.8" cy="1426.5" r="6.5"/>
<circle cx="900.9" cy="1391.0" r="6.5"/>
<circle cx="906.0" cy="1394.8" r="6.5"/>
<circle cx="911.0" cy="1385.6" r="6.5"/>
<circle cx="916.1" cy="1383.2" r="6.5"/>
<circle cx="921.2" cy="1383.2" r="6.5"/>
<circle cx="926.3" cy="1390.5" r="6.5"/>
<circle cx="931.4" cy="1403.5" r="6.5"/>
<circle cx="936.5" cy="1383.4" r="6.5"/>
<circle cx="941.5" cy="1379.6" r="6.5"/>
<circle cx="946.6" cy="1405.4" r="6.5"/>
<circle cx="951.7" cy="1375.3" r="6.5"/>
<circle cx="956.8" cy="1387.4" r="6.5"/>
<circle cx="961.9" cy="1415.6" r="6.5"/>
<circle cx="966.9" cy="1408.4" r="6.5"/>
<circle cx="972.0" cy="1385.6" r="6.5"/>
<circle cx="977.1" cy="1377.4" r="6.5"/>
<circle cx="982.2" cy="1380.7" r="6.5"/>
<circle cx="987.3" cy="1403.5" r="6.5"/>
<circle cx="992.4" cy="1413.7" r="6.5"/>
<circle cx="997.4" cy="1390.1" r="6.5"/>
<circle cx="1002.5" cy="1398.5" r="6.5"/>
<circle cx="1007.6" cy="1414.0" r="6.5"/>
<circle cx="1012.7" cy="1404.8" r="6.5"/>
<circle cx="1017.8" cy="1403.7" r="6.5"/>
<circle cx="1022.8" cy="1396.1" r="6.5"/>
<circle cx="1038.1" cy="1391.2" r="6.5"/>
<circle cx="1043.2" cy="1400.7" r="6.5"/>
<circle cx="1048.3" cy="1414.8" r="6.5"/>
<circle cx="1053.3" cy="1409.7" r="6.5"/>
<circle cx="1058.4" cy="1404.2" r="6.5"/>
<circle cx="1063.5" cy="1424.5" r="6.5"/>
<circle cx="1068.6" cy="1406.4" r="6.5"/>
<circle cx="1073.7" cy="1416.7" r="6.5"/>
<circle cx="1078.7" cy="1400.5" r="6.5"/>
<circle cx="1088.9" cy="1422.7" r="6.5"/>
<circle cx="1094.0" cy="1420.0" r="6.5"/>
<circle cx="1099.1" cy="1393.2" r="6.5"/>
<circle cx="1104.2" cy="1401.5" r="6.5"/>
<circle cx="1109.2" cy="1411.8" r="6.5"/>
<circle cx="1114.3" cy="1409.5" r="6.5"/>
<circle cx="1129.6" cy="1403.5" r="6.5"/>
<circle cx="1134.6" cy="1391.2" r="6.5"/>
<circle cx="1139.7" cy="1410.2" r="6.5"/>
<circle cx="1144.8" cy="1420.0" r="6.5"/>
<circle cx="1149.9" cy="1408.3" r="6.5"/>
<circle cx="1155.0" cy="1406.4" r="6.5"/>
<circle cx="1165.1" cy="1432.7" r="6.5"/>
<circle cx="1170.2" cy="1421.1" r="6.5"/>
<circle cx="1175.3" cy="1421.3" r="6.5"/>
<circle cx="1180.4" cy="1397.2" r="6.5"/>
<circle cx="1185.5" cy="1405.3" r="6.5"/>
<circle cx="1190.5" cy="1409.5" r="6.5"/>
<circle cx="1195.6" cy="1421.3" r="6.5"/>
<circle cx="1200.7" cy="1433.5" r="6.5"/>
<circle cx="1205.8" cy="1417.8" r="6.5"/>
<circle cx="1210.9" cy="1409.5" r="6.5"/>
<circle cx="1216.0" cy="1398.1" r="6.5"/>
<circle cx="1221.0" cy="1407.5" r="6.5"/>
<circle cx="1231.2" cy="1421.4" r="6.5"/>
<circle cx="1241.4" cy="1391.2" r="6.5"/>
<circle cx="1251.5" cy="1396.3" r="6.5"/>
<circle cx="1276.9" cy="1377.1" r="6.5"/>
<circle cx="1282.0" cy="1382.5" r="6.5"/>
<circle cx="1287.1" cy="1408.0" r="6.5"/>
<circle cx="1292.2" cy="1414.3" r="6.5"/>
<circle cx="1297.3" cy="1418.7" r="6.5"/>
<circle cx="1302.4" cy="1403.5" r="6.5"/>
<circle cx="1307.4" cy="1391.2" r="6.5"/>
<circle cx="1312.5" cy="1399.4" r="6.5"/>
<circle cx="1317.6" cy="1425.4" r="6.5"/>
<circle cx="1322.7" cy="1408.0" r="6.5"/>
<circle cx="1327.8" cy="1398.3" r="6.5"/>
<circle cx="1332.8" cy="1403.2" r="6.5"/>
<circle cx="1337.9" cy="1413.5" r="6.5"/>
<circle cx="1343.0" cy="1423.8" r="6.5"/>
<circle cx="1348.1" cy="1424.5" r="6.5"/>
<circle cx="1353.2" cy="1415.6" r="6.5"/>
<circle cx="1358.3" cy="1413.5" r="6.5"/>
<circle cx="1363.3" cy="1408.6" r="6.5"/>
<circle cx="1368.4" cy="1405.1" r="6.5"/>
<circle cx="1373.5" cy="1411.6" r="6.5"/>
<circle cx="1378.6" cy="1409.5" r="6.5"/>
<circle cx="1383.7" cy="1390.1" r="6.5"/>
<circle cx="1388.7" cy="1398.3" r="6.5"/>
<circle cx="1393.8" cy="1406.2" r="6.5"/>
<circle cx="1398.9" cy="1411.5" r="6.5"/>
<circle cx="1409.1" cy="1393.4" r="6.5"/>
<circle cx="1414.2" cy="1413.5" r="6.5"/>
<circle cx="1419.2" cy="1410.2" r="6.5"/>
<circle cx="1424.3" cy="1436.5" r="6.5"/>
<circle cx="1429.4" cy="1411.5" r="6.5"/>
<circle cx="1434.5" cy="1413.7" r="6.5"/>
<circle cx="1439.6" cy="1421.3" r="6.5"/>
<circle cx="1444.7" cy="1406.3" r="6.5"/>
<circle cx="1449.7" cy="1420.4" r="6.5"/>
<circle cx="1454.8" cy="1422.2" r="6.5"/>
<circle cx="1459.9" cy="1433.6" r="6.5"/>
<circle cx="1465.0" cy="1431.6" r="6.5"/>
<circle cx="1470.1" cy="1424.6" r="6.5"/>
<circle cx="1475.1" cy="1415.3" r="6.5"/>
<circle cx="1485.3" cy="1416.2" r="6.5"/>
<circle cx="1490.4" cy="1395.3" r="6.5"/>
<circle cx="1495.5" cy="1402.6" r="6.5"/>
<circle cx="1500.6" cy="1409.6" r="6.5"/>
<circle cx="1505.6" cy="1406.1" r="6.5"/>
<circle cx="1510.7" cy="1428.6" r="6.5"/>
<circle cx="1515.8" cy="1410.2" r="6.5"/>
<circle cx="1520.9" cy="1422.6" r="6.5"/>
<circle cx="1531.0" cy="1424.0" r="6.5"/>
<circle cx="1536.1" cy="1426.4" r="6.5"/>
<circle cx="1566.6" cy="1431.6" r="6.5"/>
<circle cx="1571.7" cy="1424.0" r="6.5"/>
<circle cx="1576.8" cy="1426.2" r="6.5"/>
<circle cx="1581.9" cy="1425.4" r="6.5"/>
<circle cx="1586.9" cy="1432.7" r="6.5"/>
<circle cx="1592.0" cy="1424.0" r="6.5"/>
<circle cx="1597.1" cy="1425.1" r="6.5"/>
<circle cx="1602.2" cy="1424.9" r="6.5"/>
<circle cx="1607.3" cy="1416.4" r="6.5"/>
<circle cx="1612.4" cy="1405.0" r="6.5"/>
<circle cx="1617.4" cy="1438.7" r="6.5"/>
<circle cx="1622.5" cy="1426.2" r="6.5"/>
<circle cx="1627.6" cy="1437.0" r="6.5"/>
<circle cx="1632.7" cy="1436.7" r="6.5"/>
<circle cx="1637.8" cy="1440.8" r="6.5"/>
<circle cx="1642.8" cy="1441.7" r="6.5"/>
<circle cx="1647.9" cy="1438.7" r="6.5"/>
<circle cx="1653.0" cy="1427.9" r="6.5"/>
<circle cx="1658.1" cy="1437.9" r="6.5"/>
<circle cx="1663.2" cy="1427.1" r="6.5"/>
<circle cx="1668.3" cy="1430.1" r="6.5"/>
<circle cx="1673.3" cy="1432.1" r="6.5"/>
<circle cx="1678.4" cy="1444.5" r="6.5"/>
<circle cx="1683.5" cy="1452.9" r="6.5"/>
<circle cx="1703.8" cy="1415.5" r="6.5"/>
<circle cx="1708.9" cy="1416.0" r="6.5"/>
<circle cx="1714.0" cy="1421.4" r="6.5"/>
<circle cx="1719.1" cy="1422.0" r="6.5"/>
<circle cx="1724.2" cy="1412.7" r="6.5"/>
<circle cx="1729.2" cy="1408.9" r="6.5"/>
<circle cx="1734.3" cy="1429.0" r="6.5"/>
<circle cx="1739.4" cy="1410.0" r="6.5"/>
<circle cx="1744.5" cy="1424.7" r="6.5"/>
<circle cx="1749.6" cy="1423.6" r="6.5"/>
<circle cx="1754.7" cy="1420.1" r="6.5"/>
<circle cx="1759.7" cy="1429.9" r="6.5"/>
<circle cx="1764.8" cy="1424.7" r="6.5"/>
<circle cx="1769.9" cy="1420.1" r="6.5"/>
<circle cx="1775.0" cy="1435.7" r="6.5"/>
<circle cx="1780.1" cy="1423.0" r="6.5"/>
<circle cx="1785.1" cy="1433.6" r="6.5"/>
<circle cx="1896.9" cy="1419.4" r="6.5"/>
<circle cx="1902.0" cy="1404.2" r="6.5"/>
<circle cx="1907.1" cy="1401.0" r="6.5"/>
<circle cx="1912.2" cy="1418.9" r="6.5"/>
<circle cx="1917.3" cy="1422.7" r="6.5"/>
<circle cx="1922.4" cy="1423.8" r="6.5"/>
<circle cx="1927.4" cy="1416.2" r="6.5"/>
<circle cx="1932.5" cy="1411.3" r="6.5"/>
<circle cx="1937.6" cy="1406.4" r="6.5"/>
<circle cx="1942.7" cy="1403.9" r="6.5"/>
<circle cx="1947.8" cy="1418.6" r="6.5"/>
<circle cx="1952.8" cy="1414.0" r="6.5"/>
<circle cx="1957.9" cy="1422.4" r="6.5"/>
<circle cx="1968.1" cy="1396.1" r="6.5"/>
<circle cx="1973.2" cy="1408.6" r="6.5"/>
<circle cx="1978.3" cy="1383.1" r="6.5"/>
<circle cx="1983.3" cy="1395.0" r="6.5"/>
<circle cx="1988.4" cy="1403.2" r="6.5"/>
<circle cx="1993.5" cy="1405.9" r="6.5"/>
<circle cx="1998.6" cy="1414.0" r="6.5"/>
</g>
<path d="M457.0 1620.0V1195.9M608.8 1620.0V1195.9M766.0 1620.0V1195.9M922.9 1620.0V1195.9M1074.8 1620.0V1195.9M1232.3 1620.0V1195.9M1383.9 1620.0V1195.9M1546.0 1620.0V1195.9M1702.7 1620.0V1195.9M1849.8 1620.0V1195.9M2006.9 1620.0V1195.9M300.0 1206.9H2160.0M300.0 1262.4H2160.0M300.0 1317.8H2160.0M300.0 1373.2H2160.0M300.0 1428.6H2160.0M300.0 1484.0H2160.0M300.0 1539.5H2160.0M300.0 1594.9H2160.0" stroke="#000" stroke-width="2.1" stroke-dasharray="4.17 12.5" fill="none"/>
<path d="M457.5 1620.0v-16M457.5 1195.9v16M609.3 1620.0v-16M609.3 1195.9v16M766.5 1620.0v-16M766.5 1195.9v16M923.4 1620.0v-16M923.4 1195.9v16M1075.3 1620.0v-16M1075.3 1195.9v16M1232.8 1620.0v-16M1232.8 1195.9v16M1384.4 1620.0v-16M1384.4 1195.9v16M1546.5 1620.0v-16M1546.5 1195.9v16M1703.2 1620.0v-16M1703.2 1195.9v16M1850.3 1620.0v-16M1850.3 1195.9v16M2007.4 1620.0v-16M2007.4 1195.9v16M300.0 1207.6h16M2160.0 1207.6h-16M300.0 1263.1h16M2160.0 1263.1h-16M300.0 1318.5h16M2160.0 1318.5h-16M300.0 1373.9h16M2160.0 1373.9h-16M300.0 1429.3h16M2160.0 1429.3h-16M300.0 1484.7h16M2160.0 1484.7h-16M300.0 1540.2h16M2160.0 1540.2h-16M300.0 1595.6h16M2160.0 1595.6h-16" stroke="#000" stroke-width="1.8" fill="none"/>
<rect x="300.0" y="1195.9" width="1860.0" height="424.0999999999999" fill="none" stroke="#000" stroke-width="4"/>
<rect x="316.1" y="1212.9" width="364.8" height="52.6" fill="#fff" stroke="#000" stroke-width="4"/>
<g fill="#f00" stroke="#000" stroke-width="2.1"><circle cx="339.4" cy="1241.0" r="6.5"/><circle cx="386.4" cy="1241.0" r="6.5"/></g>
<text transform="translate(422.70 1252.80) scale(1.0748 1)" x="-0.82 24.39 33.21 43.95 53.85 73.80 85.50 104.62 124.06 141.22 160.70 170.25 190.21 200.65 210.54" y="0" font-size="35.51">Difference of h</text>
<text transform="translate(247.33 1217.54) scale(1.0792 1)" x="0.00 16.80" y="0" font-size="30.21">60</text>
<text transform="translate(247.33 1272.96) scale(1.0792 1)" x="0.00 16.80" y="0" font-size="30.21">40</text>
<text transform="translate(247.33 1328.38) scale(1.0792 1)" x="0.00 16.80" y="0" font-size="30.21">20</text>
<text transform="translate(265.47 1383.80) scale(1.0792 1)" x="0.00" y="0" font-size="30.21">0</text>
<text transform="translate(223.45 1439.22) scale(1.1737 1)" x="1.35 19.67 35.12" y="0" font-size="30.21">−20</text>
<text transform="translate(223.45 1494.64) scale(1.1737 1)" x="1.35 19.67 35.12" y="0" font-size="30.21">−40</text>
<text transform="translate(223.45 1550.06) scale(1.1737 1)" x="1.35 19.67 35.12" y="0" font-size="30.21">−60</text>
<text transform="translate(223.45 1605.48) scale(1.1737 1)" x="1.35 19.67 35.12" y="0" font-size="30.21">−80</text>
<text transform="translate(284.20 1654.60) scale(1.1170 1)" x="-0.00 14.15" y="0" font-size="25.44">05</text>
<text transform="translate(441.20 1654.60) scale(1.1170 1)" x="-0.00 14.15" y="0" font-size="25.44">06</text>
<text transform="translate(593.00 1654.60) scale(1.1170 1)" x="-0.00 14.15" y="0" font-size="25.44">07</text>
<text transform="translate(750.20 1654.60) scale(1.1170 1)" x="-0.00 14.15" y="0" font-size="25.44">08</text>
<text transform="translate(907.10 1654.60) scale(1.1170 1)" x="-0.00 14.15" y="0" font-size="25.44">09</text>
<text transform="translate(1059.00 1654.60) scale(1.1170 1)" x="-0.00 14.15" y="0" font-size="25.44">10</text>
<text transform="translate(1216.50 1654.60) scale(1.1969 1)" x="-0.47 12.73" y="0" font-size="25.44">11</text>
<text transform="translate(1368.10 1654.60) scale(1.1170 1)" x="-0.00 14.15" y="0" font-size="25.44">12</text>
<text transform="translate(1494.40 1654.60) scale(1.1222 1)" x="-0.03 14.05 28.36 35.59 49.68 63.76 77.84" y="0" font-size="25.44">01/2026</text>
<text transform="translate(1686.90 1654.60) scale(1.1170 1)" x="-0.00 14.15" y="0" font-size="25.44">02</text>
<text transform="translate(1834.00 1654.60) scale(1.1170 1)" x="-0.00 14.15" y="0" font-size="25.44">03</text>
<text transform="translate(1991.10 1654.60) scale(1.1170 1)" x="-0.00 14.15" y="0" font-size="25.44">04</text>
<text transform="translate(2144.20 1654.60) scale(1.1170 1)" x="-0.00 14.15" y="0" font-size="25.44">05</text>
<text transform="translate(197.00 1406.45) rotate(-90) translate(-211.41 0) scale(1.0517 1)" x="-0.63 27.37 49.93 60.77 73.15 95.27 104.82 131.58 153.65 178.04 191.33 213.60 236.16 245.79 268.41 292.23 305.08 319.46 354.19 388.45" y="0" font-size="39.75">Delta GPS-height(mm)</text>
</g>
<text transform="translate(598.54 159.10) scale(1.0249 1)" x="-0.96 41.41 79.66 116.10 161.66 180.31 198.07 244.76 261.47 281.68 300.75 337.98 360.34 396.34 432.86 465.26 501.51 520.59 557.27 595.71 617.04 664.39 700.49 737.15 773.94 789.49 831.91 867.27 904.57 941.90 978.77 997.21 1033.79 1071.01 1107.84 1122.45 1157.84 1193.23" y="0" font-size="63.76">HETH, Difference between Reg13 and PPP</text>
<text transform="translate(955.40 1706.30) scale(1.0577 1)" x="-2.04 23.69 44.67 64.20 86.35 110.07 122.65 134.03 156.48 165.21 186.79 206.21 228.80 242.82 254.27 268.01 290.98 305.40 314.94 337.70 349.31 360.69 383.14 393.03 424.68 446.76 470.48 483.13 505.72" y="0" font-size="39.75">Recent 1 Year (grid: 1 Month)</text>
<text transform="translate(1903.19 1298.40) scale(1.0636 1)" x="-0.19 18.05 30.92 46.72 54.32 69.18 84.04" y="0" font-size="25.44" fill="#f00">DoY 092</text>
</svg>
</body></html>
